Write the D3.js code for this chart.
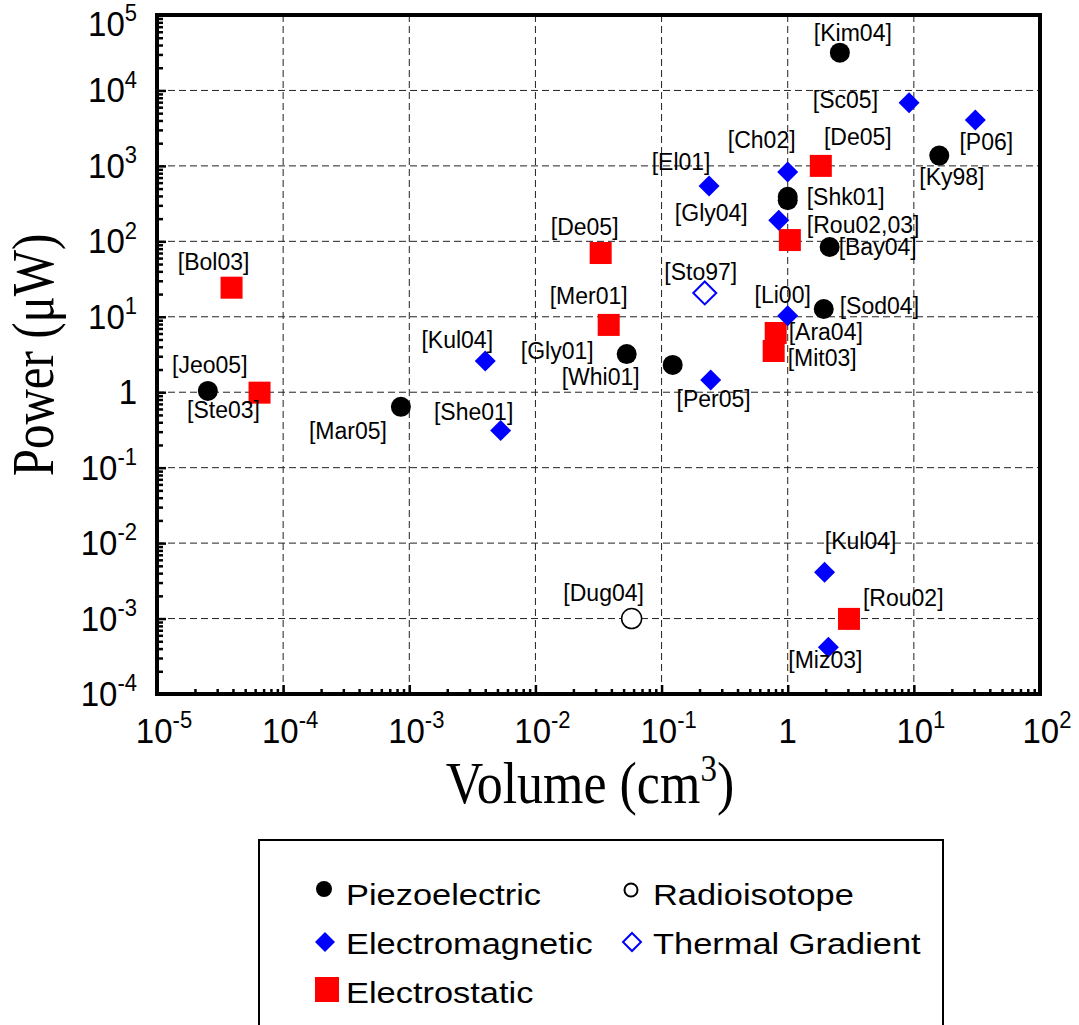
<!DOCTYPE html>
<html>
<head>
<meta charset="utf-8">
<script src="https://cdn.jsdelivr.net/npm/d3@7"></script>
<style>
  body { margin: 0; background: #fff; }
  svg { display: block; }
  .lbl { font-family: "Liberation Sans", Arial, sans-serif; font-size: 23px; fill: #000; }
  .tick-lbl { font-family: "Liberation Sans", Arial, sans-serif; font-size: 33px; fill: #000; }
  .axis-title { font-family: "Liberation Serif", "Times New Roman", serif; fill: #000; }
  .leg { font-family: "Liberation Sans", Arial, sans-serif; font-size: 31px; fill: #000; }
</style>
</head>
<body>
<svg id="chart" width="1079" height="1025"></svg>
<script>
(function () {
    var width = 1079, height = 1025

    // x ticks (volume, cm^3) and y ticks (power, uW) as powers of ten
    var xTickExp = [-5, -4, -3, -2, -1, 0, 1, 2]
    var yTickExp = [-4, -3, -2, -1, 0, 1, 2, 3, 4, 5]

    // Piezoelectric
    var piezoRefs = ["[Kim04]", "[Ky98]", "[Shk01]", "", "[Bay04]", "[Sod04]", "[Gly01]", "[Whi01]", "[Mar05]", "[Jeo05]"]
    var piezoVolume = [2.59, 15.9, 1.0, 1.0, 2.15, 1.93, 0.0529, 0.1225, 8.58e-4, 2.53e-5]
    var piezoPower = [31700, 1370, 390, 350, 84, 12.7, 3.2, 2.3, 0.64, 1.04]

    // Electromagnetic
    var emRefs = ["[Sc05]", "[P06]", "[Ch02]", "[El01]", "[Gly04]", "[Li00]", "[Kul04]", "[She01]", "[Per05]", "[Kul04]", "[Miz03]"]
    var emVolume = [9.16, 30.7, 1.0, 0.238, 0.849, 1.0, 4.0e-3, 5.3e-3, 0.245, 1.96, 2.1]
    var emPower = [6890, 4060, 830, 540, 190, 10.3, 2.6, 0.31, 1.45, 4.1e-3, 4.16e-4]

    // Electrostatic
    var esRefs = ["[De05]", "[Rou02,03]", "[De05]", "[Bol03]", "[Mer01]", "[Ara04]", "[Mit03]", "[Ste03]", "[Rou02]"]
    var esVolume = [1.83, 1.04, 0.0329, 3.9e-5, 0.0381, 0.803, 0.774, 6.5e-5, 3.06]
    var esPower = [1000, 104, 70, 24.3, 7.8, 6.1, 3.52, 0.987, 9.9e-4]

    // Radioisotope
    var radioRefs = ["[Dug04]"]
    var radioVolume = [0.0579]
    var radioPower = [1.0e-3]

    // Thermal gradient
    var thermRefs = ["[Sto97]"]
    var thermVolume = [0.22]
    var thermPower = [20.7]

    // label placement relative to the marker: [dx, dy, anchor]
    var piezoLabelPos = [[13, -20, "middle"], [-20, 21, "start"], [19, 0, "start"], null, [9, 0, "start"],
        [16, -3, "start"], [-33, -3, "end"], [-33, 12, "end"], [-14, 24, "end"], [2, -26, "middle"]]
    var emLabelPos = [[-31, -3, "end"], [11, 22, "middle"], [-26, -32, "middle"], [-28, -24, "middle"],
        [-31, -7, "end"], [-5, -21, "middle"], [-28, -21, "middle"], [-27, -19, "middle"], [3, 19, "middle"],
        [36, -31, "middle"], [-3, 13, "middle"]]
    var esLabelPos = [[37, -29, "middle"], [17, -15, "start"], [-16, -26, "middle"], [-18, -26, "middle"],
        [-20, -29, "middle"], [13, -1, "start"], [14, 7, "start"], [-36, 17, "middle"], [14, -21, "start"]]
    var radioLabelPos = [[-28, -26, "middle"]]
    var thermLabelPos = [[-4, -21, "middle"]]

    var plot = { left: 157, right: 1040, top: 15, bottom: 694 }

    var x = d3.scaleLog().domain([1e-5, 1e2]).range([plot.left, plot.right])
    var y = d3.scaleLog().domain([1e-4, 1e5]).range([plot.bottom, plot.top])

    var svg = d3.select("#chart")

    function rows(refs, vol, pow, pos) {
        return refs.map(function (r, i) { return { ref: r, v: vol[i], p: pow[i], pos: pos[i] } })
    }
    var piezo = rows(piezoRefs, piezoVolume, piezoPower, piezoLabelPos)
    var em = rows(emRefs, emVolume, emPower, emLabelPos)
    var es = rows(esRefs, esVolume, esPower, esLabelPos)
    var radio = rows(radioRefs, radioVolume, radioPower, radioLabelPos)
    var therm = rows(thermRefs, thermVolume, thermPower, thermLabelPos)

    // grid
    var grid = svg.append("g")
    grid.selectAll("line.gx")
        .data(xTickExp.slice(1, -1))
        .join("line")
        .attr("x1", function (e) { return x(Math.pow(10, e)) })
        .attr("x2", function (e) { return x(Math.pow(10, e)) })
        .attr("y1", plot.top).attr("y2", plot.bottom)
        .attr("stroke", "#222").attr("stroke-width", 1).attr("stroke-dasharray", "7,4")
    grid.selectAll("line.gy")
        .data(yTickExp.slice(1, -1))
        .join("line")
        .attr("y1", function (e) { return y(Math.pow(10, e)) })
        .attr("y2", function (e) { return y(Math.pow(10, e)) })
        .attr("x1", plot.left).attr("x2", plot.right)
        .attr("stroke", "#222").attr("stroke-width", 1).attr("stroke-dasharray", "7,4")

    // ticks (inward), major + minor
    var xMinor = [], yMinor = []
    d3.range(-5, 2).forEach(function (e) { for (var k = 2; k < 10; k++) xMinor.push(k * Math.pow(10, e)) })
    d3.range(-4, 5).forEach(function (e) { for (var k = 2; k < 10; k++) yMinor.push(k * Math.pow(10, e)) })

    svg.append("g")
        .attr("transform", "translate(0," + plot.bottom + ")")
        .call(d3.axisBottom(x).tickValues(xMinor).tickSize(-5).tickFormat(""))
        .call(function (g) { g.select(".domain").remove() })
        .call(function (g) { g.selectAll("line").attr("stroke-width", 2.5) })
    svg.append("g")
        .attr("transform", "translate(0," + plot.bottom + ")")
        .call(d3.axisBottom(x).tickValues(xTickExp.map(function (e) { return Math.pow(10, e) })).tickSize(-9).tickFormat(""))
        .call(function (g) { g.select(".domain").remove() })
        .call(function (g) { g.selectAll("line").attr("stroke-width", 2.5) })
    svg.append("g")
        .attr("transform", "translate(" + plot.left + ",0)")
        .call(d3.axisLeft(y).tickValues(yMinor).tickSize(-6).tickFormat(""))
        .call(function (g) { g.select(".domain").remove() })
        .call(function (g) { g.selectAll("line").attr("stroke-width", 2.5) })
    svg.append("g")
        .attr("transform", "translate(" + plot.left + ",0)")
        .call(d3.axisLeft(y).tickValues(yTickExp.map(function (e) { return Math.pow(10, e) })).tickSize(-9).tickFormat(""))
        .call(function (g) { g.select(".domain").remove() })
        .call(function (g) { g.selectAll("line").attr("stroke-width", 2.5) })

    // frame
    svg.append("rect")
        .attr("x", plot.left).attr("y", plot.top)
        .attr("width", plot.right - plot.left).attr("height", plot.bottom - plot.top)
        .attr("fill", "none").attr("stroke", "#000").attr("stroke-width", 4)

    // tick labels with superscripts
    function powLabel(sel, e) {
        if (e === 0) { sel.text("1"); return }
        sel.append("tspan").text("10")
        sel.append("tspan").attr("font-size", "22px").attr("dy", -14).text(String(e))
    }
    svg.append("g").selectAll("text")
        .data(xTickExp)
        .join("text")
        .attr("class", "tick-lbl")
        .attr("text-anchor", "middle")
        .attr("transform", function (e) { return "translate(" + (x(Math.pow(10, e)) + (e === 0 ? 0 : 7)) + ",743) scale(1,1.05)" })
        .each(function (e) { powLabel(d3.select(this), e) })
    svg.append("g").selectAll("text")
        .data(yTickExp)
        .join("text")
        .attr("class", "tick-lbl")
        .attr("text-anchor", "end")
        .attr("transform", function (e) { return "translate(137," + Math.max(y(Math.pow(10, e)) + 12, 36) + ") scale(1,1.05)" })
        .each(function (e) { powLabel(d3.select(this), e) })

    // axis titles
    svg.append("text")
        .attr("class", "axis-title")
        .attr("text-anchor", "middle")
        .attr("font-size", "52px")
        .attr("transform", "translate(590,803) scale(1,1.12)")
        .call(function (t) {
            t.append("tspan").text("Volume (cm")
            t.append("tspan").attr("font-size", "33px").attr("dy", -20).text("3")
            t.append("tspan").attr("dy", 20).text(")")
        })
    svg.append("text")
        .attr("class", "axis-title")
        .attr("text-anchor", "middle")
        .attr("font-size", "49px")
        .attr("transform", "translate(53,355) rotate(-90) scale(1,1.2)")
        .text("Power (\u03bcW)")

    // marker shapes
    function diamond(cx, cy, r) {
        return "M" + cx + "," + (cy - r) + "L" + (cx + r) + "," + cy + "L" + cx + "," + (cy + r) + "L" + (cx - r) + "," + cy + "Z"
    }

    var marks = svg.append("g")
    marks.selectAll("rect.es")
        .data(es)
        .join("rect")
        .attr("x", function (d) { return x(d.v) - 11 })
        .attr("y", function (d) { return y(d.p) - 11 })
        .attr("width", 22).attr("height", 22)
        .attr("fill", "#ff0000")
    marks.selectAll("path.em")
        .data(em)
        .join("path")
        .attr("d", function (d) { return diamond(x(d.v), y(d.p), 10.5) })
        .attr("fill", "#0000ff")
    marks.selectAll("circle.pz")
        .data(piezo)
        .join("circle")
        .attr("cx", function (d) { return x(d.v) })
        .attr("cy", function (d) { return y(d.p) })
        .attr("r", 10)
        .attr("fill", "#000")
    marks.selectAll("circle.rd")
        .data(radio)
        .join("circle")
        .attr("cx", function (d) { return x(d.v) })
        .attr("cy", function (d) { return y(d.p) })
        .attr("r", 10)
        .attr("fill", "#fff").attr("stroke", "#000").attr("stroke-width", 1.5)
    marks.selectAll("path.th")
        .data(therm)
        .join("path")
        .attr("d", function (d) { return diamond(x(d.v), y(d.p), 11.5) })
        .attr("fill", "#fff").attr("stroke", "#0000ff").attr("stroke-width", 2)

    // reference labels
    var all = piezo.concat(em, es, radio, therm).filter(function (d) { return d.ref && d.pos })
    svg.append("g").selectAll("text")
        .data(all)
        .join("text")
        .attr("class", "lbl")
        .attr("x", function (d) { return x(d.v) + d.pos[0] })
        .attr("y", function (d) { return y(d.p) + d.pos[1] })
        .attr("dy", "0.35em")
        .attr("text-anchor", function (d) { return d.pos[2] })
        .text(function (d) { return d.ref })

    // legend
    var legend = svg.append("g")
    legend.append("rect")
        .attr("x", 259).attr("y", 840).attr("width", 684).attr("height", 200)
        .attr("fill", "none").attr("stroke", "#000").attr("stroke-width", 2)
    legend.append("circle").attr("cx", 324).attr("cy", 889).attr("r", 8).attr("fill", "#000")
    legend.append("path").attr("d", diamond(325, 942, 10)).attr("fill", "#0000ff")
    legend.append("rect").attr("x", 315).attr("y", 977).attr("width", 24).attr("height", 25).attr("fill", "#ff0000")
    legend.append("circle").attr("cx", 631).attr("cy", 890).attr("r", 6.5)
        .attr("fill", "#fff").attr("stroke", "#000").attr("stroke-width", 2)
    legend.append("path").attr("d", diamond(632, 942, 9))
        .attr("fill", "#fff").attr("stroke", "#0000ff").attr("stroke-width", 2)
    var legItems = [["Piezoelectric", 346, 905], ["Electromagnetic", 346, 954], ["Electrostatic", 346, 1003],
        ["Radioisotope", 653, 905], ["Thermal Gradient", 653, 954]]
    legend.selectAll("text")
        .data(legItems)
        .join("text")
        .attr("class", "leg")
        .attr("transform", function (d) { return "translate(" + d[1] + "," + d[2] + ") scale(1.11,0.95)" })
        .text(function (d) { return d[0] })
})();
</script>
</body>
</html>
